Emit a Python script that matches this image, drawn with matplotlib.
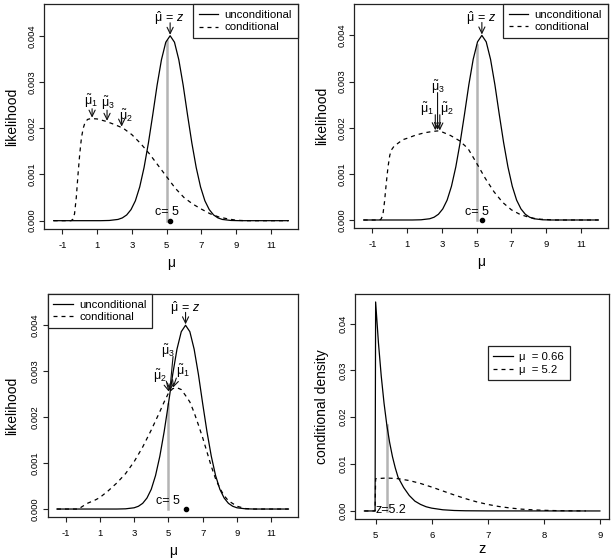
import numpy as np
import matplotlib
matplotlib.use('Agg')
import matplotlib.pyplot as plt
from matplotlib.lines import Line2D

plt.rcParams['font.family'] = ['Liberation Sans', 'DejaVu Sans']
plt.rcParams['mathtext.fontset'] = 'custom'
plt.rcParams['mathtext.rm'] = 'Liberation Sans'
plt.rcParams['mathtext.it'] = 'Liberation Sans:italic'
plt.rcParams['mathtext.bf'] = 'Liberation Sans:bold'
plt.rcParams['axes.unicode_minus'] = False

# ---------------- data ----------------
c_value = 5
z_obs = [5.2, 5.3, 6.0]          # observed z (= unconditional MLE) per panel

# unconditional likelihood shape, offsets from its peak
unc_offsets = [-4, -3.5, -3, -2.75, -2.5, -2.25, -2, -1.75, -1.5, -1.25, -1, -0.75, -0.5, -0.25, 0,
               0.25, 0.5, 0.75, 1, 1.25, 1.5, 1.75, 2, 2.25, 2.5, 2.75, 3, 3.5, 4]
unc_values = [0, 0.0000045, 0.000027, 0.00006, 0.000124, 0.00024, 0.00043, 0.00073, 0.00115, 0.00168,
              0.00229, 0.00293, 0.00348, 0.00386, 0.004,
              0.00386, 0.00348, 0.00293, 0.00229, 0.00168, 0.00115, 0.00073, 0.00043, 0.00024,
              0.000124, 0.00006, 0.000027, 0.0000045, 0]
mu_range = [-1.5, 12]

# conditional likelihoods
cond1_x = [-1.5, -0.5, -0.4, -0.3, -0.2, -0.1, 0.0, 0.1, 0.2, 0.3, 0.45, 0.65, 1.0, 1.5, 2.0, 2.5,
           3.0, 3.5, 4.0, 4.5, 5.0, 5.5, 6.0, 6.5, 7.0, 7.5, 8.0, 8.5, 9.0, 9.5, 12]
cond1_y = [0, 0, 0.00003, 0.00015, 0.0005, 0.001, 0.00145, 0.0018, 0.002, 0.00212, 0.00219, 0.00221,
           0.0022, 0.00215, 0.00208, 0.002, 0.00186, 0.00167, 0.00145, 0.0012, 0.00095, 0.0007,
           0.0005, 0.00036, 0.00025, 0.00015, 0.00008, 0.00004, 0.00001, 0, 0]
cond2_x = [-1.5, -0.6, -0.5, -0.4, -0.3, -0.2, -0.1, 0.0, 0.1, 0.25, 0.5, 0.75, 1.0, 1.5, 2.0, 2.5,
           2.75, 3.0, 3.5, 4.0, 4.5, 5.0, 5.5, 6.0, 6.5, 7.0, 7.5, 8.0, 8.5, 9.0, 9.5, 12]
cond2_y = [0, 0, 0.00002, 0.0001, 0.0004, 0.0008, 0.00115, 0.0014, 0.00152, 0.0016, 0.00167, 0.00174,
           0.00177, 0.00184, 0.00189, 0.00192, 0.00193, 0.00191, 0.00183, 0.00172, 0.00155, 0.00123,
           0.0009, 0.00061, 0.00038, 0.00022, 0.00012, 0.00006, 0.00002, 0.00001, 0, 0]
cond3_x = [-1.5, -0.25, 0.0, 0.25, 0.5, 0.75, 1.0, 1.5, 2.0, 2.5, 3.0, 3.5, 4.0, 4.5, 4.75, 5.0, 5.25,
           5.5, 5.75, 6.0, 6.25, 6.5, 6.75, 7.0, 7.25, 7.5, 7.75, 8.0, 8.25, 8.5, 9.0, 9.5, 10.0, 12]
cond3_y = [0, 0, 0.00006, 0.00012, 0.00016, 0.0002, 0.00025, 0.0004, 0.00057, 0.00077, 0.00103,
           0.00135, 0.00172, 0.00212, 0.00233, 0.00252, 0.00262, 0.00264, 0.0026, 0.00247, 0.00233,
           0.0021, 0.00183, 0.00155, 0.00124, 0.00093, 0.00066, 0.00045, 0.00029, 0.00018, 0.00006,
           0.00001, 0, 0]
cond_x = [cond1_x, cond2_x, cond3_x]
cond_y = [cond1_y, cond2_y, cond3_y]

# conditional MLE estimates (tilde mu 1, 2, 3) per panel
mu_tilde = [[0.71, 2.41, 1.57],
            [2.62, 2.88, 2.75],
            [5.27, 5.03, 5.08]]

# panel 4: conditional density of z given z > c
dens_z_solid = [4.8, 4.99, 5.0, 5.05, 5.1, 5.15, 5.2, 5.25, 5.3, 5.35, 5.4, 5.5, 5.6, 5.7, 5.8, 5.9,
                6.0, 6.2, 6.4, 6.6, 7.0, 9.0]
dens_solid = [0, 0, 0.0446, 0.0359, 0.0288, 0.0230, 0.0183, 0.0146, 0.0116, 0.0092, 0.0072, 0.0050,
              0.0033, 0.0021, 0.0014, 0.0009, 0.0006, 0.00025, 0.0001, 0.00004, 0.00001, 0]
dens_z_dashed = [4.8, 4.99, 5.0, 5.2, 5.4, 5.6, 5.8, 6.0, 6.2, 6.4, 6.6, 6.8, 7.0, 7.2, 7.4, 7.6, 7.8,
                 8.0, 8.2, 8.4, 8.6, 8.75]
dens_dashed = [0, 0, 0.00689, 0.00703, 0.00689, 0.00649, 0.00587, 0.0051, 0.00426, 0.00342, 0.00264,
               0.00195, 0.00139, 0.00095, 0.00063, 0.00039, 0.00024, 0.00014, 0.000078, 0.000042,
               0.000022, 0.00001]
z_example = 5.2
mu_legend = ['μ  = 0.66', 'μ  = 5.2']

# ---------------- style ----------------
W, H = 613, 559
fig = plt.figure(figsize=(W / 100, H / 100), dpi=100)
LW = 0.9
DASH = (0, (3.2, 3.2))
GRAY = '#b4b4b4'
TICK_FS = 6.8
LAB_FS = 10
TXT_FS = 8.2
ANN_FS = 9.0


def box(l, r, t, b):
    return [l / W, 1 - b / H, (r - l) / W, (b - t) / H]


axes_px = [box(44.3, 297.7, 4.3, 229.0), box(354.3, 607.7, 4.0, 228.3),
           box(47.7, 297.7, 294.0, 517.3), box(355.0, 609.3, 294.0, 519.3)]


def style_axes(ax):
    for s in ax.spines.values():
        s.set_linewidth(0.9)
        s.set_color('#222222')
    ax.tick_params(direction='out', length=3.6, width=0.8, labelsize=TICK_FS, pad=5.0,
                   color='#222222')
    ax.tick_params(axis='y', pad=2.0)
    plt.setp(ax.get_yticklabels(), rotation=90, va='center')


def arrow(ax, x0, y0, x1, y1):
    ax.annotate('', xy=(x1, y1), xytext=(x0, y0),
                arrowprops=dict(arrowstyle='->,head_length=0.45,head_width=0.22', lw=0.8,
                                color='#111111', shrinkA=0, shrinkB=0, mutation_scale=10))


def add_legend(ax, labels, **kw):
    handles = [Line2D([], [], color='black', lw=LW),
               Line2D([], [], color='black', lw=LW, linestyle=DASH)]
    leg = ax.legend(handles, labels, fontsize=TXT_FS, frameon=True, fancybox=False,
                    edgecolor='#222222', framealpha=1, borderaxespad=0, handlelength=1.7,
                    handletextpad=0.55, borderpad=0.5, labelspacing=0.22, **kw)
    leg.get_frame().set_linewidth(0.9)
    return leg


# tilde-label positions: (label x, label y, arrow start x, arrow start y)
tilde_layout = [
    [(0.66, 0.00258, 0.71, 0.00242), (2.63, 0.00226, 2.41, 0.00222), (1.63, 0.00253, 1.57, 0.00239)],
    [(2.16, 0.00240, 2.62, 0.00228), (3.27, 0.00240, 2.88, 0.00228), (2.75, 0.00287, 2.75, 0.00276)],
    [(5.85, 0.00300, 5.46, 0.00285), (4.50, 0.00289, 4.88, 0.00278), (4.98, 0.00344, 5.27, 0.00332)],
]
legend_locs = ['upper right', 'upper right', 'upper left']
ylab_x = [-0.101, -0.101, -0.114]

for i in range(3):
    ax = fig.add_axes(axes_px[i])
    z = z_obs[i]
    ux = [mu_range[0]] + [z + o for o in unc_offsets] + [mu_range[1]]
    uy = [0] + unc_values + [0]
    ax.plot(ux, uy, color='black', lw=LW)
    ax.plot(cond_x[i], cond_y[i], color='black', lw=LW, linestyle=DASH)
    # grey line at c up to unconditional likelihood
    ax.plot([c_value, c_value], [0, np.interp(c_value, ux, uy)], color=GRAY, lw=1.8, zorder=1.5)
    ax.plot([z], [0], 'o', color='black', ms=3)
    ax.text(c_value, 0.00018, 'c= 5', fontsize=ANN_FS, ha='center', va='center')
    # mu hat = z
    ax.text(z - 0.05, 0.00437, r'$\hat{\mathrm{μ}}\,=\,z$', fontsize=ANN_FS, ha='center', va='center')
    arrow(ax, z, 0.00428, z, 0.00402)
    # tilde mus
    for k in range(3):
        lx, ly, ax0, ay0 = tilde_layout[i][k]
        mt = mu_tilde[i][k]
        tip = np.interp(mt, cond_x[i], cond_y[i])
        ax.text(lx, ly, r'$\tilde{\mathrm{μ}}_{%d}$' % (k + 1), fontsize=ANN_FS, ha='center', va='center')
        arrow(ax, ax0, ay0, mt, tip + 0.00002)
    ax.set_xlim(-2.04, 12.54)
    ax.set_ylim(-0.00018, 0.00468)
    ax.set_xticks([-1, 1, 3, 5, 7, 9, 11])
    ax.set_yticks([0, 0.001, 0.002, 0.003, 0.004])
    ax.set_yticklabels(['0.000', '0.001', '0.002', '0.003', '0.004'])
    ax.set_xlabel('μ', fontsize=LAB_FS)
    ax.set_ylabel('likelihood', fontsize=LAB_FS)
    ax.xaxis.set_label_coords(0.5, -0.118)
    ax.yaxis.set_label_coords(ylab_x[i], 0.5)
    style_axes(ax)
    add_legend(ax, ['unconditional', 'conditional'], loc=legend_locs[i])

# panel 4
ax = fig.add_axes(axes_px[3])
ax.plot(dens_z_solid, dens_solid, color='black', lw=LW)
ax.plot(dens_z_dashed, dens_dashed, color='black', lw=LW, linestyle=DASH)
ax.plot([z_example, z_example], [0, np.interp(z_example, dens_z_solid, dens_solid)],
        color=GRAY, lw=1.8, zorder=1.5)
ax.text(5.28, 0.00025, 'z=5.2', fontsize=ANN_FS, ha='center', va='center')
ax.set_xlim(4.632, 9.168)
ax.set_ylim(-0.00178, 0.0463)
ax.set_xticks([5, 6, 7, 8, 9])
ax.set_yticks([0, 0.01, 0.02, 0.03, 0.04])
ax.set_yticklabels(['0.00', '0.01', '0.02', '0.03', '0.04'])
ax.set_xlabel('z', fontsize=LAB_FS + 0.5)
ax.set_ylabel('conditional density', fontsize=LAB_FS)
ax.xaxis.set_label_coords(0.5, -0.1)
ax.yaxis.set_label_coords(-0.104, 0.5)
style_axes(ax)
add_legend(ax, mu_legend, loc='upper left', bbox_to_anchor=(7.0, 0.0351),
           bbox_transform=ax.transData)

fig.savefig('out.png', dpi=100)
